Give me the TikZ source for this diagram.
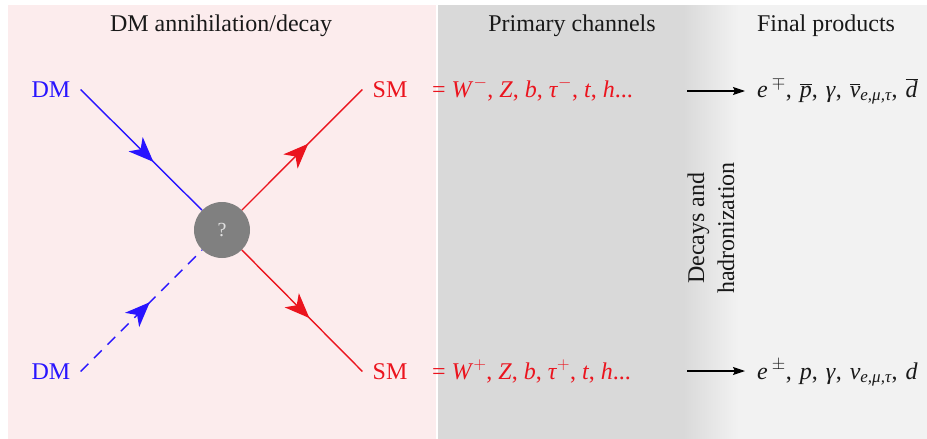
\documentclass[tikz,border=0pt]{standalone}
\usepackage{fontspec}
\setmainfont{Liberation Serif}
\usetikzlibrary{arrows.meta,decorations.markings}
\definecolor{pinkbg}{RGB}{252,236,237}
\definecolor{greybg}{RGB}{217,217,217}
\definecolor{lightbg}{RGB}{242,242,242}
\definecolor{dmblue}{RGB}{40,20,255}
\definecolor{smred}{RGB}{235,20,30}
\definecolor{txt}{RGB}{25,25,25}
\newcommand{\myol}[1]{$\overline{\mbox{\itshape #1}}$}
\newcommand{\mysub}[1]{$_{\mbox{\fontsize{17}{17}\selectfont\itshape #1}}$}
\newcommand{\mysep}{,\hspace{8pt}}
\begin{document}
\begin{tikzpicture}[x=1pt,y=-1pt,
  font=\fontsize{24}{30}\selectfont,
  title/.style={text=txt},
  dmlab/.style={text=dmblue, inner xsep=10pt, inner ysep=2pt},
  smlab/.style={text=smred, inner xsep=10pt, inner ysep=2pt},
  blob/.style={circle, fill=black!50, minimum size=56pt, inner sep=0pt, text=black!12, font=\fontsize{20}{20}\selectfont},
  arrmid/.style={postaction={decorate}, decoration={markings, mark=at position #1 with {\arrow{Stealth[length=25pt,width=20pt,inset=7pt]}}}},
  bluel/.style={draw=dmblue, color=dmblue, line width=1.4pt},
  redl/.style={draw=smred, color=smred, line width=1.4pt},
  chan/.style={text=smred, anchor=base west, inner sep=0pt},
  prod/.style={text=txt, anchor=base west, inner sep=0pt},
  thinarrow/.style={draw=black, line width=1.1pt, -{Stealth[length=12pt,width=8pt,inset=2pt]}}
]
\useasboundingbox (0,0) rectangle (927,439);
% panels
\fill[pinkbg] (8,5) rectangle (436,439);
\fill[greybg] (438,5) rectangle (683,439);
\shade[left color=greybg, right color=lightbg] (683,5) rectangle (738.5,439);
\fill[lightbg] (738,5) rectangle (927,439);
% titles
\node[title] (t1) at (221,26) {DM annihilation/decay};
\node[title] (t2) at (572,26) {Primary channels};
\node[title] (t3) at (826,26) {Final products};
% diagram
\node[blob] (c) at (222,230) {?};
\node[dmlab] (dm1) at (51,89.5) {DM};
\node[dmlab] (dm2) at (51,371.5) {DM};
\node[smlab] (sm1) at (390,89.5) {SM};
\node[smlab] (sm2) at (390,371.5) {SM};
\draw[bluel, arrmid=0.6] (dm1.east) -- (c);
\draw[bluel, dash pattern=on 11pt off 8pt, arrmid=0.57] (dm2.east) -- (c);
\draw[redl, arrmid=0.55] (c) -- (sm1.west);
\draw[redl, arrmid=0.56] (c) -- (sm2.west);
% primary channels
\node[chan] (p1) at (432,97) {=\hspace{6pt}\textit{W}$^{-}$, \textit{Z}, \textit{b}, \textit{τ}$^{-}$, \textit{t}, \textit{h}...};
\node[chan] (p2) at (432,379) {=\hspace{6pt}\textit{W}$^{+}$, \textit{Z}, \textit{b}, \textit{τ}$^{+}$, \textit{t}, \textit{h}...};
% decays label
\node[text=txt, rotate=90, align=center] (dec) at (711,228) {Decays and\\hadronization};
% final products
\node[prod] (f1) at (757,97) {\textit{e}\,$^{\mp}$\mysep\myol{p}\mysep\textit{γ}\mysep\myol{ν}\mysub{e,μ,τ}\mysep\myol{d}};
\node[prod] (f2) at (757,379) {\textit{e}\,$^{\pm}$\mysep\textit{p}\mysep\textit{γ}\mysep\textit{ν}\mysub{e,μ,τ}\mysep\textit{d}};
\coordinate (a1s) at (687,91);
\coordinate (a1e) at (745,91);
\coordinate (a2s) at (687,371);
\coordinate (a2e) at (745,371);
\draw[thinarrow] (a1s) -- (a1e);
\draw[thinarrow] (a2s) -- (a2e);
\end{tikzpicture}
\end{document}
